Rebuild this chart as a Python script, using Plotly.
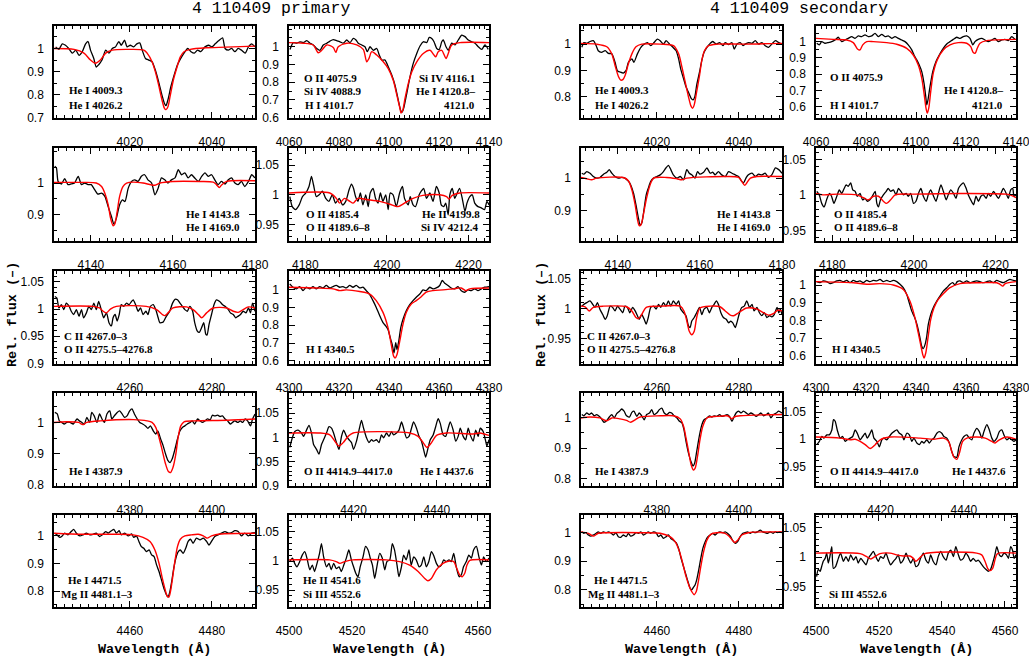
import plotly.graph_objects as go

W, H = 1029, 659

# ---------------- PRIMARY ----------------
# Row 1, col 1 (He I 4009 / 4026)
P11_ow = [4001.9, 4002.7, 4003.5, 4004.3, 4005.1, 4006.0, 4006.8, 4007.6, 4008.4, 4009.2, 4009.8, 4010.4, 4011.2, 4011.8, 4012.4, 4013.2, 4014.1, 4014.9, 4015.7, 4016.5, 4017.3, 4017.9, 4018.7, 4019.3, 4020.1, 4020.9, 4021.7, 4022.4, 4023.0, 4023.8, 4024.6, 4025.4, 4026.2, 4027.0, 4027.8, 4028.4, 4028.8, 4029.3, 4030.0, 4030.8, 4031.6, 4032.4, 4033.2, 4034.1, 4034.9, 4035.7, 4036.5, 4037.3, 4038.3, 4039.2, 4040.0, 4040.8, 4041.6, 4042.6, 4043.2, 4044.0, 4044.8, 4045.6, 4046.4, 4047.2, 4048.1, 4048.9, 4049.7, 4050.5]
P11_of = [1.007, 0.996, 1.02, 1.014, 1.0, 0.98, 0.993, 0.97, 0.986, 1.02, 1.03, 0.993, 0.957, 0.92, 0.93, 0.95, 0.993, 0.98, 1.0, 1.007, 1.03, 1.014, 1.036, 1.007, 1.014, 1.007, 1.02, 1.024, 0.993, 0.957, 0.95, 0.943, 0.907, 0.857, 0.8, 0.764, 0.753, 0.78, 0.836, 0.886, 0.93, 0.957, 0.98, 1.0, 0.986, 0.98, 0.993, 0.986, 1.007, 1.014, 1.007, 1.02, 1.033, 1.046, 1.0, 0.993, 1.0, 0.986, 1.0, 0.993, 0.98, 1.007, 1.02, 1.007]
P11_mw = [4001.5, 4006.4, 4008.8, 4010.4, 4011.6, 4012.8, 4014.1, 4015.7, 4019.3, 4023.4, 4024.2, 4025.4, 4026.2, 4027.0, 4027.8, 4028.4, 4028.8, 4029.3, 4029.8, 4030.6, 4031.5, 4032.3, 4033.2, 4034.7, 4038.7, 4045.2, 4050.5]
P11_mf = [1.0, 0.996, 0.98, 0.95, 0.936, 0.95, 0.98, 0.993, 0.996, 0.993, 0.98, 0.943, 0.9, 0.843, 0.78, 0.743, 0.736, 0.75, 0.793, 0.864, 0.92, 0.964, 0.986, 0.996, 1.003, 1.007, 1.01]

# Row 1, col 2 (H delta region)
P12_ow = [4060.4, 4061.7, 4063.1, 4064.4, 4065.7, 4067.1, 4068.4, 4069.7, 4071.1, 4072.4, 4073.7, 4075.1, 4076.4, 4077.7, 4079.1, 4080.4, 4081.7, 4083.1, 4084.4, 4085.7, 4086.8, 4087.7, 4089.1, 4090.4, 4091.3, 4092.4, 4093.7, 4095.1, 4096.1, 4097.1, 4098.4, 4099.7, 4101.1, 4102.4, 4103.7, 4104.7, 4105.3, 4106.0, 4107.1, 4108.4, 4109.7, 4111.1, 4112.4, 4113.7, 4115.1, 4116.1, 4117.1, 4118.0, 4119.1, 4120.1, 4121.1, 4121.7, 4122.8, 4123.7, 4125.1, 4126.4, 4127.7, 4129.1, 4130.4, 4131.7, 4133.1, 4134.4, 4135.7, 4137.1, 4138.4, 4139.7]
P12_of = [0.985, 1.023, 1.02, 1.028, 1.023, 1.034, 1.02, 1.01, 0.99, 0.98, 1.01, 1.02, 1.032, 1.04, 1.034, 1.028, 1.02, 1.038, 1.023, 1.047, 1.038, 1.02, 1.01, 1.0, 0.972, 1.0, 0.98, 0.99, 0.953, 0.925, 0.925, 0.887, 0.84, 0.783, 0.7, 0.64, 0.632, 0.66, 0.736, 0.83, 0.906, 0.962, 1.004, 1.028, 1.023, 1.053, 1.047, 1.028, 0.99, 0.985, 1.028, 1.038, 1.0, 0.98, 1.02, 1.01, 1.038, 1.066, 1.057, 1.038, 1.028, 1.02, 1.0, 0.985, 1.01, 0.985]
P12_mw = [4060, 4065.7, 4069.7, 4071.7, 4073.1, 4075.1, 4077.7, 4078.7, 4079.7, 4083.1, 4087.1, 4089.7, 4091.1, 4092.0, 4093.1, 4095.1, 4097.7, 4099.7, 4101.7, 4103.3, 4104.4, 4104.8, 4105.5, 4106.4, 4107.7, 4109.1, 4111.1, 4113.7, 4116.4, 4118.0, 4118.7, 4119.7, 4121.1, 4122.8, 4123.7, 4125.1, 4128.4, 4140]
P12_mf = [1.023, 1.02, 1.01, 0.966, 0.98, 1.01, 0.996, 0.968, 1.0, 1.02, 1.01, 0.985, 0.915, 0.934, 0.972, 0.953, 0.915, 0.877, 0.811, 0.717, 0.651, 0.626, 0.642, 0.708, 0.792, 0.858, 0.915, 0.962, 0.98, 0.953, 0.943, 0.972, 0.98, 0.934, 0.962, 1.01, 1.023, 1.023]

# Row 2, col 1 (He I 4143 / 4169)
P21_ow = [4131.2, 4131.6, 4132.0, 4132.8, 4133.6, 4134.4, 4135.2, 4136.0, 4136.9, 4137.7, 4138.5, 4139.3, 4140.1, 4140.9, 4141.7, 4142.6, 4143.4, 4144.2, 4145.0, 4145.6, 4146.2, 4147.0, 4147.7, 4148.3, 4149.1, 4149.9, 4150.7, 4151.5, 4152.3, 4153.1, 4153.9, 4154.8, 4155.6, 4156.4, 4157.2, 4158.0, 4158.8, 4159.6, 4160.5, 4161.3, 4162.1, 4162.9, 4163.7, 4164.5, 4165.3, 4166.2, 4167.0, 4167.8, 4168.6, 4169.4, 4170.2, 4171.0, 4171.8, 4172.7, 4173.5, 4174.3, 4175.1, 4175.9, 4176.7, 4177.5, 4178.4, 4179.2, 4180.0]
P21_of = [1.053, 1.047, 1.005, 0.997, 1.014, 0.995, 0.997, 1.0, 1.021, 0.995, 1.0, 0.995, 0.995, 0.979, 0.965, 0.968, 0.958, 0.926, 0.895, 0.871, 0.889, 0.932, 0.947, 0.942, 0.984, 1.005, 1.01, 1.005, 1.021, 1.026, 1.01, 1.0, 0.963, 0.984, 1.016, 1.01, 1.0, 1.01, 1.016, 1.042, 1.026, 1.032, 1.016, 1.026, 1.016, 1.005, 1.021, 1.032, 1.021, 1.026, 1.01, 0.995, 1.005, 0.997, 1.01, 1.016, 1.0, 0.995, 1.005, 0.989, 1.005, 1.026, 1.016]
P21_mw = [4131, 4138.1, 4141.3, 4142.6, 4143.4, 4144.2, 4144.8, 4145.4, 4145.8, 4146.4, 4147.0, 4147.8, 4148.7, 4150.3, 4152.7, 4155.6, 4156.8, 4160.0, 4166.6, 4169.8, 4170.6, 4171.3, 4171.8, 4173.1, 4180]
P21_mf = [1.002, 1.002, 1.0, 0.989, 0.968, 0.932, 0.889, 0.866, 0.871, 0.91, 0.958, 0.989, 1.0, 1.003, 1.0, 0.993, 1.0, 1.005, 1.005, 1.003, 0.995, 0.986, 0.993, 1.005, 1.007]

# Row 2, col 2 (O II / He II 4200)
P22_ow = [4176.2, 4176.8, 4177.6, 4178.5, 4179.3, 4180.1, 4180.9, 4181.5, 4182.0, 4182.7, 4183.4, 4184.2, 4185.0, 4185.8, 4186.6, 4187.4, 4188.3, 4189.1, 4189.9, 4190.7, 4191.3, 4191.8, 4192.3, 4192.9, 4193.5, 4194.1, 4194.8, 4195.4, 4195.9, 4196.6, 4197.2, 4197.8, 4198.4, 4199.0, 4199.7, 4200.3, 4200.8, 4201.5, 4202.3, 4203.1, 4203.8, 4204.3, 4205.2, 4205.7, 4206.4, 4207.0, 4207.9, 4208.4, 4209.0, 4209.7, 4210.5, 4211.3, 4212.1, 4212.8, 4213.3, 4213.9, 4214.4, 4215.0, 4215.4, 4216.0, 4216.6, 4217.2, 4217.8, 4218.5, 4219.1, 4219.6, 4220.3, 4220.9, 4221.5, 4222.3, 4223.1, 4223.9, 4224.5, 4225.0]
P22_of = [0.997, 0.98, 0.975, 0.983, 0.997, 1.003, 1.014, 1.031, 1.017, 0.997, 1.0, 1.006, 0.994, 0.989, 1.0, 0.986, 0.994, 0.983, 0.989, 1.008, 1.018, 1.011, 0.997, 0.989, 1.003, 0.983, 1.0, 0.98, 1.003, 1.011, 0.994, 0.986, 1.003, 0.989, 1.0, 0.975, 1.003, 1.0, 0.98, 1.003, 1.014, 0.994, 0.983, 0.997, 0.983, 0.98, 1.0, 1.006, 1.011, 0.994, 1.003, 0.989, 1.014, 1.003, 0.983, 0.98, 0.986, 0.966, 1.0, 1.011, 0.994, 1.003, 1.011, 0.992, 0.972, 0.986, 0.997, 1.0, 0.986, 0.98, 0.978, 0.975, 0.989, 0.983]
P22_mw = [4176, 4186, 4187.6, 4188.4, 4189.6, 4190.9, 4191.7, 4192.9, 4195, 4198.2, 4200.7, 4202.7, 4204.3, 4206.4, 4208.8, 4212.9, 4214.6, 4215.2, 4216, 4217.8, 4225]
P22_mf = [1.003, 1.003, 0.994, 0.986, 0.994, 0.989, 0.986, 0.994, 0.992, 0.989, 0.984, 0.98, 0.986, 0.994, 0.999, 1.0, 0.997, 0.993, 0.999, 1.003, 1.003]

# Row 3, col 1 (C II / O II)
P31_ow = [4241.7, 4242.2, 4242.7, 4243.3, 4243.9, 4244.5, 4245.2, 4245.7, 4246.3, 4246.95, 4247.6, 4248.2, 4248.7, 4249.4, 4250.0, 4250.6, 4251.2, 4251.8, 4252.4, 4253.1, 4253.6, 4254.3, 4254.9, 4255.5, 4255.9, 4256.4, 4256.9, 4257.4, 4257.9, 4258.5, 4259.2, 4259.8, 4260.4, 4260.8, 4261.4, 4262.0, 4262.6, 4263.2, 4263.9, 4264.4, 4265.0, 4265.7, 4266.3, 4266.9, 4267.3, 4268.1, 4268.9, 4269.7, 4270.4, 4271.0, 4271.6, 4272.2, 4272.8, 4273.4, 4274.0, 4274.6, 4275.3, 4275.8, 4276.4, 4276.9, 4277.5, 4278.0, 4278.5, 4278.8, 4279.3, 4279.9, 4280.5, 4281.1, 4281.9, 4282.6, 4283.2, 4284.0, 4284.5, 4285.2, 4285.8, 4286.4, 4286.98, 4287.6, 4288.3, 4288.9, 4289.4, 4289.9, 4290.5]
P31_of = [1.023, 1.02, 1.002, 1.008, 0.999, 1.011, 1.005, 0.996, 0.99, 0.999, 0.987, 0.999, 0.984, 0.993, 1.005, 0.999, 1.011, 0.999, 1.014, 0.996, 0.984, 0.993, 0.975, 0.969, 0.984, 0.99, 0.978, 0.99, 1.008, 1.005, 1.011, 1.008, 1.014, 1.017, 1.008, 0.996, 1.002, 0.99, 0.996, 0.99, 1.005, 1.008, 0.999, 0.984, 0.975, 0.976, 0.987, 0.996, 1.011, 1.018, 1.017, 1.011, 1.005, 0.999, 0.996, 1.005, 0.996, 0.975, 0.96, 0.957, 0.966, 0.975, 0.954, 0.952, 0.972, 0.99, 1.008, 1.017, 1.014, 1.008, 1.005, 0.999, 0.993, 0.99, 0.984, 0.987, 0.99, 0.996, 0.993, 1.002, 0.993, 1.011, 0.996]
P31_mw = [4241.5, 4251.0, 4252.6, 4253.5, 4254.3, 4255.25, 4256.7, 4264.0, 4266.5, 4267.9, 4268.5, 4269.3, 4270.5, 4273.8, 4275.4, 4276.7, 4277.5, 4278.7, 4280.3, 4283.6, 4285.2, 4286.4, 4287.6, 4288.9, 4290.5]
P31_mf = [1.005, 1.005, 1.002, 0.996, 0.993, 1.0, 1.005, 1.005, 0.999, 0.99, 0.988, 0.993, 1.002, 1.004, 0.999, 0.99, 0.984, 0.993, 1.002, 1.002, 0.996, 0.994, 0.999, 1.004, 1.002]

# Row 3, col 2 (H gamma)
P32_ow = [4300.3, 4301.6, 4302.9, 4304.3, 4305.6, 4306.9, 4308.3, 4309.6, 4310.9, 4312.3, 4313.6, 4314.9, 4316.3, 4317.6, 4318.9, 4320.3, 4321.6, 4322.9, 4324.3, 4325.6, 4326.9, 4328.3, 4329.6, 4330.9, 4332.3, 4333.6, 4334.9, 4336.3, 4337.6, 4338.7, 4339.6, 4340.5, 4341.3, 4342.0, 4342.7, 4343.2, 4343.9, 4344.7, 4345.6, 4346.9, 4348.3, 4349.6, 4350.9, 4352.3, 4353.6, 4354.9, 4356.3, 4357.6, 4358.9, 4360.3, 4361.3, 4362.3, 4363.6, 4364.9, 4366.3, 4367.6, 4368.9, 4370.3, 4371.6, 4372.9, 4374.3, 4375.6, 4376.9, 4378.3, 4380]
P32_of = [1.032, 1.013, 1.004, 1.017, 0.994, 1.013, 1.004, 1.017, 1.004, 1.017, 1.009, 1.023, 1.009, 1.017, 1.023, 1.013, 1.017, 1.009, 1.023, 1.013, 1.023, 1.009, 1.013, 0.994, 0.972, 0.938, 0.9, 0.853, 0.815, 0.796, 0.777, 0.73, 0.692, 0.645, 0.702, 0.664, 0.711, 0.787, 0.834, 0.881, 0.915, 0.938, 0.957, 0.975, 0.998, 0.994, 1.013, 1.004, 1.009, 1.023, 1.051, 1.036, 1.023, 1.009, 1.004, 1.017, 0.994, 0.985, 0.998, 0.994, 1.004, 0.994, 1.004, 1.013, 1.017]
P32_mw = [4300, 4310.9, 4317.6, 4320.3, 4322.9, 4328.3, 4332.3, 4334.9, 4337.6, 4339.6, 4340.9, 4341.9, 4342.5, 4343.2, 4344.3, 4345.6, 4346.9, 4348.9, 4350.9, 4352.9, 4354.9, 4357.6, 4361.6, 4365.6, 4368.9, 4370.7, 4372.3, 4380]
P32_mf = [1.013, 1.009, 1.004, 0.994, 0.998, 0.989, 0.975, 0.938, 0.872, 0.787, 0.692, 0.626, 0.617, 0.636, 0.711, 0.806, 0.872, 0.919, 0.938, 0.96, 0.985, 0.994, 0.998, 1.004, 1.009, 0.994, 1.004, 1.009]

# Row 4, col 1 (He I 4387.9)
P41_ow = [4361.7, 4362.3, 4362.8, 4363.4, 4364.0, 4364.6, 4365.4, 4366.2, 4367.1, 4367.7, 4368.3, 4368.9, 4369.5, 4370.2, 4370.7, 4371.3, 4371.96, 4372.6, 4373.2, 4373.8, 4374.4, 4375.1, 4375.6, 4376.2, 4376.9, 4377.5, 4378.1, 4378.7, 4379.3, 4379.95, 4380.5, 4381.1, 4381.8, 4382.4, 4383.1, 4383.8, 4384.4, 4385.0, 4385.7, 4386.3, 4386.8, 4387.5, 4388.1, 4388.7, 4389.3, 4389.8, 4390.3, 4390.9, 4391.6, 4392.2, 4392.8, 4393.4, 4394.0, 4394.7, 4395.2, 4395.8, 4396.5, 4397.1, 4397.7, 4398.3, 4398.9, 4399.6, 4400.1, 4400.7, 4401.4, 4402.0, 4402.6, 4403.2, 4403.8, 4404.5, 4405.0, 4405.6, 4406.3, 4406.9, 4407.5, 4408.1, 4408.7, 4409.4, 4409.9, 4410.5]
P41_of = [1.032, 1.027, 1.005, 1.0, 0.995, 1.0, 1.0, 0.995, 1.011, 1.005, 1.0, 0.995, 1.016, 1.0, 1.032, 1.021, 1.0, 1.027, 1.011, 1.0, 1.027, 1.037, 1.011, 1.021, 1.032, 1.037, 1.027, 1.016, 1.021, 1.037, 1.043, 1.027, 1.011, 1.0, 0.995, 0.989, 0.981, 0.989, 0.973, 0.963, 0.973, 0.947, 0.926, 0.899, 0.878, 0.872, 0.883, 0.91, 0.947, 0.973, 0.984, 0.989, 0.995, 1.0, 1.005, 0.995, 1.011, 1.005, 1.0, 1.005, 1.011, 1.009, 1.023, 1.021, 1.023, 1.019, 1.021, 1.011, 1.005, 0.995, 1.0, 1.005, 1.0, 1.005, 1.0, 1.011, 1.005, 0.989, 1.011, 1.027]
P41_mw = [4361.5, 4364.6, 4367.5, 4368.5, 4369.5, 4372.8, 4380.9, 4384.2, 4385.4, 4386.3, 4387.1, 4387.9, 4388.7, 4389.4, 4389.9, 4390.5, 4391.2, 4391.7, 4392.4, 4393.2, 4395.6, 4403.8, 4410.5]
P41_mf = [1.0, 1.002, 1.0, 0.993, 1.0, 1.005, 1.009, 1.005, 1.0, 0.984, 0.952, 0.91, 0.867, 0.843, 0.84, 0.856, 0.899, 0.947, 0.989, 1.002, 1.005, 1.007, 1.011]

# Row 4, col 2 (O II 4415 / He I 4437.6)
P42_ow = [4404.7, 4405.3, 4405.9, 4406.7, 4407.5, 4408.0, 4408.7, 4409.3, 4409.9, 4410.4, 4411.1, 4411.7, 4412.3, 4412.8, 4413.5, 4414.1, 4414.7, 4415.2, 4415.9, 4416.5, 4417.1, 4417.6, 4418.3, 4418.9, 4419.5, 4420.0, 4420.7, 4421.3, 4421.9, 4422.4, 4423.1, 4423.7, 4424.3, 4424.8, 4425.5, 4426.1, 4426.7, 4427.2, 4427.9, 4428.5, 4429.1, 4429.6, 4430.3, 4430.9, 4431.5, 4432.0, 4432.7, 4433.3, 4433.9, 4434.4, 4435.1, 4435.7, 4436.3, 4436.8, 4437.3, 4437.9, 4438.4, 4439.1, 4439.7, 4440.3, 4440.8, 4441.5, 4442.1, 4442.7, 4443.2, 4443.9, 4444.5, 4445.1, 4445.6, 4446.3, 4446.9, 4447.5, 4448.0, 4448.7, 4449.3, 4449.9, 4450.4, 4451.1, 4451.7, 4452.0, 4452.5]
P42_of = [0.979, 0.999, 1.012, 1.015, 1.009, 1.002, 1.015, 1.025, 1.009, 0.985, 0.975, 0.965, 0.985, 0.995, 1.009, 1.022, 1.019, 1.009, 0.989, 0.975, 1.002, 1.015, 1.002, 0.995, 0.989, 0.975, 0.992, 1.015, 1.035, 1.019, 0.999, 0.989, 0.995, 0.992, 0.995, 0.989, 1.005, 0.999, 1.009, 1.002, 1.012, 1.005, 1.009, 1.015, 1.032, 1.019, 0.999, 1.002, 1.019, 1.032, 1.019, 1.002, 0.992, 0.975, 0.959, 0.979, 0.995, 1.005, 1.022, 1.039, 1.029, 1.005, 1.002, 1.019, 1.032, 1.015, 0.992, 1.002, 1.019, 1.002, 0.995, 1.019, 1.005, 0.992, 1.015, 1.002, 1.019, 1.012, 0.992, 0.982, 0.995]
P42_mw = [4404.5, 4411.9, 4414.3, 4415.5, 4416.5, 4417.5, 4418.7, 4419.9, 4433.5, 4435.5, 4436.7, 4437.6, 4438.7, 4439.9, 4442.3, 4448.7, 4450.3, 4452.5]
P42_mf = [1.009, 1.009, 1.005, 0.992, 0.982, 0.989, 1.002, 1.009, 1.009, 1.002, 0.989, 0.979, 0.989, 1.004, 1.009, 1.007, 1.009, 1.004]

# Row 5, col 1 (He I 4471.5 / Mg II)
P51_ow = [4441.7, 4442.2, 4442.9, 4443.5, 4444.1, 4444.9, 4445.7, 4446.3, 4446.95, 4447.8, 4448.6, 4449.4, 4450.2, 4451.0, 4451.8, 4452.6, 4453.3, 4454.1, 4454.7, 4455.5, 4456.1, 4456.7, 4457.4, 4457.9, 4458.75, 4459.6, 4460.4, 4460.95, 4461.6, 4462.2, 4462.8, 4463.4, 4464.0, 4464.7, 4465.3, 4465.9, 4466.5, 4467.1, 4467.8, 4468.4, 4468.9, 4469.3, 4469.7, 4470.2, 4470.7, 4471.2, 4471.8, 4472.3, 4472.99, 4473.6, 4474.2, 4474.8, 4475.4, 4476.2, 4477.1, 4477.9, 4478.7, 4479.3, 4479.9, 4480.7, 4481.5, 4482.3, 4483.2, 4484.0, 4484.8, 4485.6, 4486.4, 4487.2, 4488.0, 4488.9, 4489.7, 4490.5]
P51_of = [1.01, 1.004, 0.995, 1.0, 1.01, 1.004, 1.016, 1.024, 1.01, 1.0, 1.004, 1.01, 1.004, 1.006, 1.01, 0.998, 1.004, 1.016, 1.01, 1.019, 1.024, 1.01, 1.019, 1.004, 1.01, 1.0, 1.007, 0.995, 1.0, 0.98, 0.961, 0.955, 0.943, 0.949, 0.931, 0.925, 0.895, 0.871, 0.835, 0.805, 0.787, 0.778, 0.795, 0.835, 0.883, 0.919, 0.943, 0.949, 0.937, 0.955, 0.98, 0.988, 0.973, 0.992, 0.986, 0.992, 0.98, 0.967, 0.98, 0.998, 1.004, 1.01, 1.016, 1.01, 1.012, 1.019, 1.016, 1.0, 1.01, 1.0, 1.01, 1.012]
P51_mw = [4441.5, 4448.6, 4456.7, 4460.8, 4463.2, 4464.9, 4466.1, 4467.1, 4467.9, 4468.6, 4469.1, 4469.5, 4469.9, 4470.4, 4470.96, 4471.6, 4472.3, 4473.4, 4475.0, 4476.7, 4477.9, 4478.8, 4479.9, 4481.9, 4490.5]
P51_mf = [1.01, 1.006, 1.006, 1.004, 0.995, 0.98, 0.949, 0.901, 0.847, 0.805, 0.781, 0.778, 0.799, 0.847, 0.907, 0.961, 0.988, 1.0, 1.004, 1.006, 1.0, 0.992, 1.0, 1.007, 1.01]

# Row 5, col 2 (He II 4541.6 / Si III)
P52_ow = [4500.2, 4501.1, 4501.8, 4502.5, 4503.4, 4504.2, 4505.0, 4505.7, 4506.6, 4507.4, 4508.1, 4508.9, 4509.7, 4510.3, 4511.0, 4511.9, 4512.7, 4513.4, 4514.2, 4515.0, 4515.9, 4516.6, 4517.4, 4518.2, 4519.0, 4519.8, 4520.5, 4521.2, 4521.9, 4522.6, 4523.5, 4524.3, 4525.1, 4525.8, 4526.5, 4527.2, 4527.9, 4528.8, 4529.6, 4530.4, 4531.1, 4532.0, 4532.8, 4533.5, 4534.3, 4534.9, 4535.7, 4536.4, 4537.2, 4538.1, 4538.8, 4539.6, 4540.4, 4541.3, 4542.0, 4542.8, 4543.6, 4544.4, 4545.2, 4545.9, 4546.8, 4547.6, 4548.4, 4549.1, 4549.9, 4550.8, 4551.5, 4552.3, 4553.1, 4554.0, 4554.7, 4555.4, 4556.3, 4557.1, 4557.9, 4558.6, 4559.5, 4560.3, 4561.1, 4561.8, 4562.6, 4563.5]
P52_of = [0.999, 1.005, 0.996, 0.99, 0.999, 1.01, 1.016, 1.005, 0.985, 0.993, 0.982, 0.996, 1.013, 1.03, 1.007, 0.99, 0.996, 0.985, 0.996, 0.987, 0.99, 0.982, 0.993, 1.005, 1.019, 1.002, 0.99, 0.979, 0.973, 0.99, 1.007, 1.025, 1.019, 1.005, 0.993, 0.97, 0.99, 1.013, 1.005, 0.985, 0.999, 1.002, 1.03, 1.019, 0.993, 0.973, 0.99, 1.01, 1.002, 1.019, 0.993, 1.007, 1.002, 0.99, 0.993, 1.007, 0.99, 0.999, 1.016, 1.01, 0.996, 0.99, 0.993, 1.002, 0.999, 1.002, 0.999, 1.013, 0.99, 0.973, 0.976, 0.99, 0.999, 1.01, 1.005, 1.019, 1.025, 1.007, 0.993, 1.007, 0.999, 1.005]
P52_mw = [4500, 4512.9, 4515.0, 4516.1, 4517.7, 4520.3, 4530.9, 4535.1, 4538.3, 4541.0, 4543.1, 4544.1, 4545.2, 4546.8, 4548.9, 4551.0, 4552.3, 4553.3, 4554.2, 4555.0, 4555.8, 4556.5, 4557.4, 4563.5]
P52_mf = [1.002, 1.002, 0.999, 0.996, 0.999, 1.002, 1.002, 0.999, 0.993, 0.982, 0.97, 0.966, 0.97, 0.985, 0.996, 1.0, 0.999, 0.987, 0.976, 0.973, 0.979, 0.993, 1.001, 1.002]

# ---------------- SECONDARY ----------------
S11_ow = [4001.7, 4002.2, 4002.9, 4003.7, 4004.5, 4005.2, 4005.7, 4006.5, 4007.4, 4008.2, 4009.0, 4009.8, 4010.4, 4011.0, 4011.8, 4012.5, 4013.05, 4013.9, 4014.4, 4015.25, 4016.1, 4016.9, 4017.7, 4018.5, 4019.3, 4020.1, 4020.8, 4021.6, 4022.25, 4023.1, 4023.9, 4024.7, 4025.3, 4025.8, 4026.5, 4027.1, 4027.8, 4028.35, 4028.8, 4029.25, 4029.7, 4030.4, 4030.95, 4031.5, 4032.2, 4033.0, 4033.6, 4034.45, 4035.3, 4036.1, 4036.65, 4037.5, 4038.3, 4038.85, 4039.5, 4040.3, 4041.0, 4041.5, 4042.35, 4043.2, 4043.97, 4044.8, 4045.6, 4046.4, 4047.2, 4048.0, 4048.9, 4049.7, 4050.5]
S11_of = [0.988, 1.006, 1.003, 1.01, 1.013, 0.994, 0.975, 0.969, 0.975, 0.965, 0.963, 0.931, 0.898, 0.894, 0.89, 0.9, 0.931, 0.944, 0.931, 0.963, 0.988, 1.0, 1.006, 0.994, 1.006, 1.019, 1.013, 1.0, 1.013, 1.0, 0.988, 0.975, 0.944, 0.906, 0.869, 0.838, 0.813, 0.794, 0.788, 0.8, 0.844, 0.894, 0.938, 0.969, 0.988, 1.003, 1.01, 1.0, 1.006, 0.994, 1.006, 0.998, 1.006, 0.981, 1.0, 1.006, 0.994, 1.0, 1.006, 1.003, 1.013, 1.0, 1.006, 0.994, 0.988, 1.0, 1.013, 1.006, 1.0]
S11_mw = [4001.5, 4005.3, 4007.8, 4009.0, 4009.8, 4010.6, 4011.2, 4011.7, 4012.25, 4013.05, 4013.9, 4014.9, 4016.3, 4020.8, 4024.04, 4025.3, 4026.1, 4026.9, 4027.7, 4028.3, 4028.7, 4029.1, 4029.7, 4030.4, 4030.95, 4031.6, 4032.6, 4034.6, 4041.1, 4050.5]
S11_mf = [1.003, 1.0, 0.99, 0.963, 0.919, 0.878, 0.863, 0.865, 0.881, 0.925, 0.963, 0.99, 1.0, 1.0, 0.994, 0.963, 0.913, 0.856, 0.8, 0.765, 0.756, 0.769, 0.819, 0.881, 0.938, 0.975, 0.994, 1.0, 1.0, 1.003]

S12_ow = [4060.3, 4061.3, 4062.3, 4063.6, 4064.9, 4066.3, 4067.6, 4068.9, 4070.3, 4071.6, 4072.9, 4074.3, 4075.6, 4076.9, 4078.3, 4079.6, 4080.9, 4082.3, 4083.6, 4084.9, 4086.3, 4087.6, 4088.9, 4090.3, 4091.6, 4092.9, 4094.3, 4095.6, 4096.9, 4098.3, 4099.2, 4100.3, 4101.3, 4102.3, 4103.2, 4103.9, 4104.3, 4104.8, 4105.6, 4106.7, 4108.0, 4109.3, 4110.9, 4112.3, 4113.6, 4114.9, 4116.3, 4117.6, 4118.9, 4120.3, 4121.6, 4122.7, 4123.6, 4124.9, 4126.3, 4127.6, 4128.9, 4130.3, 4131.6, 4132.9, 4134.3, 4135.6, 4136.9, 4138.3, 4139.6]
S12_of = [0.99, 0.98, 1.0, 0.99, 0.994, 1.0, 1.01, 1.027, 1.0, 1.01, 1.02, 1.031, 1.02, 1.035, 1.031, 1.041, 1.031, 1.035, 1.051, 1.031, 1.045, 1.031, 1.035, 1.02, 1.031, 1.02, 1.01, 1.0, 0.98, 0.949, 0.918, 0.888, 0.857, 0.816, 0.745, 0.663, 0.612, 0.643, 0.724, 0.816, 0.878, 0.918, 0.959, 0.986, 1.0, 1.014, 1.027, 1.02, 1.031, 1.035, 1.02, 0.98, 1.0, 1.014, 1.02, 1.01, 1.0, 1.01, 1.02, 1.0, 1.01, 1.014, 1.006, 1.031, 1.014]
S12_mw = [4060, 4066.9, 4072.3, 4074.9, 4076.7, 4077.6, 4078.7, 4080.3, 4082.9, 4088.3, 4092.3, 4096.3, 4098.9, 4100.9, 4102.3, 4103.3, 4104.0, 4104.5, 4105.1, 4105.9, 4106.9, 4108.5, 4110.9, 4113.6, 4116.9, 4120.3, 4121.9, 4122.9, 4123.7, 4124.5, 4125.6, 4128.3, 4140]
S12_mf = [1.02, 1.014, 1.01, 0.994, 0.953, 0.949, 0.98, 1.0, 1.0, 0.994, 0.984, 0.959, 0.918, 0.857, 0.776, 0.673, 0.592, 0.561, 0.592, 0.694, 0.806, 0.888, 0.949, 0.98, 0.994, 0.99, 0.969, 0.933, 0.929, 0.959, 0.99, 1.006, 1.014]

S21_ow = [4131.2, 4131.7, 4132.4, 4133.2, 4134.0, 4134.8, 4135.6, 4136.5, 4137.3, 4137.9, 4138.5, 4139.3, 4140.1, 4140.9, 4141.7, 4142.6, 4143.1, 4143.8, 4144.4, 4145.0, 4145.4, 4145.8, 4146.4, 4146.9, 4147.4, 4148.0, 4148.7, 4149.5, 4150.3, 4151.1, 4151.7, 4152.3, 4152.9, 4153.5, 4154.4, 4155.2, 4156.0, 4156.8, 4157.4, 4158.0, 4158.8, 4159.4, 4160.0, 4160.9, 4161.7, 4162.5, 4163.1, 4163.7, 4164.5, 4165.3, 4166.2, 4166.96, 4167.8, 4168.6, 4169.4, 4170.2, 4170.6, 4171.3, 4171.8, 4172.7, 4173.5, 4174.3, 4175.1, 4175.9, 4176.7, 4177.5, 4178.4, 4179.2, 4180.0]
S21_of = [1.015, 1.012, 1.02, 1.015, 1.005, 1.0, 1.002, 1.012, 1.018, 1.026, 1.015, 1.005, 1.0, 1.002, 1.0, 0.99, 0.98, 0.954, 0.918, 0.878, 0.857, 0.862, 0.908, 0.949, 0.969, 0.99, 1.0, 1.005, 1.01, 1.02, 1.031, 1.039, 1.026, 1.01, 1.0, 1.005, 0.995, 1.026, 1.015, 1.01, 1.0, 1.02, 1.012, 1.018, 1.031, 1.015, 1.018, 1.01, 1.02, 1.01, 1.005, 1.02, 1.015, 1.01, 1.005, 0.99, 0.985, 1.002, 1.01, 1.015, 1.005, 1.012, 1.01, 1.015, 1.002, 1.01, 1.031, 1.026, 1.015]
S21_mw = [4131, 4132.4, 4133.6, 4134.8, 4141.3, 4142.55, 4143.4, 4144.2, 4144.8, 4145.2, 4145.6, 4146.2, 4146.9, 4147.7, 4148.7, 4151.9, 4154.35, 4155.6, 4156.8, 4166.6, 4169.4, 4170.2, 4170.9, 4171.4, 4172.3, 4173.9, 4180]
S21_mf = [1.002, 0.998, 0.995, 1.0, 1.002, 0.992, 0.964, 0.918, 0.872, 0.855, 0.857, 0.888, 0.934, 0.974, 1.0, 1.002, 0.998, 0.995, 1.0, 1.005, 1.002, 0.99, 0.978, 0.985, 1.0, 1.005, 1.005]

S22_ow = [4176.2, 4176.8, 4177.4, 4178.0, 4178.6, 4179.3, 4179.8, 4180.4, 4181.1, 4181.7, 4182.3, 4182.9, 4183.4, 4183.9, 4184.5, 4185.0, 4185.6, 4186.1, 4186.8, 4187.4, 4188.0, 4188.6, 4189.2, 4189.8, 4190.5, 4190.9, 4191.3, 4191.8, 4192.5, 4193.2, 4193.7, 4194.3, 4194.95, 4195.6, 4196.2, 4196.8, 4197.4, 4198.1, 4198.6, 4199.2, 4199.9, 4200.5, 4201.1, 4201.7, 4202.3, 4203.0, 4203.5, 4204.1, 4204.8, 4205.4, 4205.98, 4206.6, 4207.2, 4207.9, 4208.4, 4209.0, 4209.7, 4210.3, 4210.9, 4211.5, 4212.1, 4212.8, 4213.3, 4213.9, 4214.6, 4215.2, 4215.8, 4216.4, 4217.0, 4217.7, 4218.2, 4218.8, 4219.5, 4220.1, 4220.7, 4221.3, 4221.9, 4222.6, 4223.1, 4223.7, 4224.2, 4224.5, 4225.0]
S22_of = [1.005, 1.0, 0.988, 0.983, 0.993, 1.002, 0.998, 0.988, 0.998, 1.007, 1.002, 1.009, 1.014, 1.012, 1.017, 1.007, 1.005, 0.998, 1.002, 0.993, 0.995, 0.991, 0.993, 0.998, 1.005, 0.988, 0.983, 0.993, 1.0, 1.005, 1.009, 1.005, 1.007, 1.0, 1.009, 1.005, 1.0, 1.002, 0.998, 1.002, 0.988, 0.991, 1.002, 1.009, 0.998, 0.991, 1.0, 1.007, 0.998, 0.991, 1.002, 1.014, 1.005, 0.993, 1.0, 1.007, 1.002, 0.995, 1.009, 1.014, 1.017, 1.009, 1.0, 0.993, 0.986, 0.998, 0.991, 0.998, 1.0, 0.995, 1.002, 0.998, 1.005, 1.0, 0.995, 1.002, 1.009, 1.002, 0.995, 1.007, 1.009, 0.998, 1.0]
S22_mw = [4176, 4177.8, 4181.1, 4186.0, 4187.6, 4188.8, 4190.1, 4191.3, 4192.5, 4193.3, 4194.3, 4195.4, 4199.9, 4211.3, 4222.7, 4224.0, 4225.0]
S22_mf = [1.002, 1.0, 1.001, 1.0, 0.996, 0.993, 0.998, 0.998, 0.991, 0.988, 0.993, 1.0, 1.001, 1.002, 1.001, 0.999, 0.996]

S31_ow = [4241.7, 4242.2, 4242.9, 4243.7, 4244.35, 4244.9, 4245.5, 4246.1, 4246.8, 4247.4, 4247.9, 4248.6, 4249.2, 4249.8, 4250.4, 4251.0, 4251.7, 4252.2, 4252.8, 4253.4, 4254.1, 4254.7, 4255.25, 4255.7, 4256.3, 4256.9, 4257.4, 4257.9, 4258.5, 4259.2, 4259.8, 4260.4, 4260.95, 4261.6, 4262.2, 4262.8, 4263.4, 4264.0, 4264.7, 4265.3, 4265.8, 4266.5, 4267.1, 4267.7, 4268.1, 4268.5, 4269.1, 4269.7, 4270.4, 4270.95, 4271.5, 4272.2, 4272.8, 4273.4, 4273.95, 4274.5, 4275.0, 4275.6, 4276.2, 4276.9, 4277.5, 4278.0, 4278.5, 4279.1, 4279.5, 4280.15, 4280.7, 4281.3, 4281.9, 4282.6, 4283.2, 4283.7, 4284.4, 4285.0, 4285.6, 4286.2, 4286.8, 4287.5, 4288.0, 4288.6, 4289.3, 4289.7, 4290.1, 4290.5]
S31_of = [1.004, 1.007, 1.01, 1.013, 1.007, 1.002, 1.01, 0.999, 0.99, 0.982, 0.988, 1.004, 1.002, 0.996, 1.004, 0.999, 0.993, 1.004, 1.002, 0.993, 1.002, 0.996, 0.988, 0.982, 0.99, 0.982, 0.974, 0.985, 1.002, 1.004, 0.999, 1.007, 1.002, 1.01, 1.004, 1.013, 1.004, 1.013, 1.007, 1.013, 0.999, 0.993, 0.988, 0.971, 0.968, 0.979, 0.985, 0.993, 1.002, 0.99, 0.999, 1.002, 0.993, 1.002, 1.007, 1.013, 1.007, 0.993, 0.985, 0.982, 0.976, 0.979, 0.976, 0.968, 0.976, 0.993, 1.002, 1.004, 1.013, 1.002, 1.007, 0.996, 1.002, 0.993, 0.988, 0.993, 0.985, 0.988, 0.986, 0.99, 1.002, 0.993, 0.999, 0.99]
S31_mw = [4241.5, 4242.5, 4243.5, 4244.5, 4246.95, 4252.6, 4253.9, 4254.9, 4255.5, 4256.3, 4257.4, 4260.8, 4265.7, 4266.6, 4267.3, 4267.9, 4268.5, 4269.1, 4269.7, 4270.5, 4273.0, 4275.4, 4276.65, 4277.9, 4278.7, 4279.9, 4281.9, 4284.4, 4286.0, 4287.2, 4288.5, 4289.4, 4290.5]
S31_mf = [1.004, 1.003, 0.996, 1.002, 1.004, 1.003, 0.996, 0.985, 0.983, 0.99, 1.002, 1.004, 1.004, 0.996, 0.979, 0.962, 0.956, 0.962, 0.985, 1.001, 1.004, 1.003, 0.996, 0.989, 0.988, 0.993, 1.001, 0.999, 0.993, 0.989, 0.992, 0.997, 0.996]

S32_ow = [4300.3, 4301.6, 4302.9, 4304.3, 4305.6, 4306.9, 4308.3, 4309.6, 4310.9, 4312.3, 4313.6, 4314.9, 4316.3, 4317.6, 4318.9, 4320.3, 4321.6, 4322.9, 4324.3, 4325.6, 4326.9, 4328.3, 4329.6, 4330.9, 4332.3, 4333.6, 4334.9, 4336.3, 4337.3, 4338.3, 4339.2, 4340.0, 4340.9, 4341.6, 4342.3, 4342.9, 4343.6, 4344.3, 4344.9, 4345.9, 4346.9, 4348.3, 4349.6, 4350.9, 4352.3, 4353.6, 4354.7, 4355.6, 4356.5, 4357.6, 4358.9, 4360.3, 4361.6, 4362.9, 4364.3, 4365.6, 4366.9, 4368.3, 4369.6, 4370.9, 4372.3, 4373.6, 4374.9, 4376.3, 4377.6, 4378.9, 4380]
S32_of = [1.019, 1.013, 1.023, 1.019, 1.008, 1.013, 1.023, 1.026, 1.019, 1.026, 1.013, 1.026, 1.019, 1.023, 1.013, 1.026, 1.019, 1.026, 1.023, 1.032, 1.019, 1.026, 1.019, 1.026, 1.019, 1.004, 0.985, 0.947, 0.9, 0.853, 0.825, 0.796, 0.749, 0.702, 0.655, 0.642, 0.664, 0.711, 0.777, 0.834, 0.872, 0.909, 0.938, 0.966, 0.985, 1.004, 1.013, 1.0, 1.019, 1.023, 1.013, 1.023, 1.013, 1.019, 1.023, 1.019, 1.013, 1.019, 1.023, 1.013, 1.026, 1.019, 1.013, 1.023, 1.032, 1.026, 1.023]
S32_mw = [4300, 4314.9, 4320.3, 4325.6, 4330.9, 4334.9, 4337.6, 4339.6, 4340.9, 4342.0, 4342.7, 4343.2, 4343.9, 4344.7, 4345.9, 4347.2, 4348.9, 4350.9, 4353.6, 4357.6, 4365.6, 4372.3, 4373.6, 4374.7, 4375.7, 4380]
S32_mf = [1.019, 1.013, 1.004, 1.008, 1.0, 0.975, 0.909, 0.815, 0.73, 0.655, 0.608, 0.589, 0.617, 0.692, 0.806, 0.872, 0.919, 0.951, 0.985, 1.008, 1.013, 1.013, 1.004, 0.994, 1.008, 1.019]

S41_ow = [4361.7, 4362.2, 4362.9, 4363.5, 4364.1, 4364.7, 4365.3, 4366.0, 4366.5, 4367.1, 4367.8, 4368.4, 4369.0, 4369.6, 4370.2, 4370.9, 4371.4, 4372.0, 4372.6, 4373.3, 4373.9, 4374.4, 4375.1, 4375.7, 4376.3, 4376.9, 4377.5, 4378.2, 4378.75, 4379.3, 4379.97, 4380.6, 4381.2, 4381.8, 4382.4, 4383.1, 4383.6, 4384.2, 4384.9, 4385.5, 4386.1, 4386.6, 4387.1, 4387.7, 4388.3, 4388.8, 4389.2, 4389.7, 4390.4, 4390.96, 4391.5, 4392.2, 4392.8, 4393.4, 4393.96, 4394.6, 4395.3, 4395.8, 4396.4, 4397.1, 4397.7, 4398.3, 4398.7, 4399.3, 4399.9, 4400.5, 4401.1, 4401.8, 4402.3, 4402.9, 4403.6, 4404.2, 4404.8, 4405.4, 4406.0, 4406.7, 4407.2, 4407.8, 4408.4, 4409.1, 4409.7, 4410.5]
S41_of = [1.009, 1.005, 1.014, 1.009, 1.014, 1.005, 1.009, 1.003, 0.995, 0.984, 0.99, 1.001, 1.009, 0.998, 1.012, 1.02, 1.027, 1.02, 1.005, 1.001, 1.016, 1.02, 1.003, 1.014, 1.005, 0.992, 1.009, 1.014, 1.025, 1.009, 1.014, 1.025, 1.03, 1.014, 1.009, 1.016, 1.014, 1.005, 0.998, 0.987, 0.982, 0.96, 0.922, 0.884, 0.857, 0.842, 0.851, 0.889, 0.943, 0.976, 0.992, 0.998, 1.005, 1.001, 1.005, 1.003, 1.009, 1.003, 1.005, 1.009, 1.003, 0.987, 0.998, 1.014, 1.02, 1.014, 1.02, 1.014, 1.009, 1.014, 1.009, 1.003, 1.009, 1.014, 1.005, 1.009, 1.014, 0.998, 1.009, 1.014, 1.02, 1.014]
S41_mw = [4361.5, 4363.7, 4366.1, 4367.8, 4369.0, 4371.0, 4372.6, 4373.6, 4374.7, 4375.9, 4380.8, 4384.0, 4385.7, 4386.5, 4387.1, 4387.8, 4388.35, 4388.9, 4389.3, 4389.9, 4390.5, 4391.2, 4392.2, 4394.6, 4397.1, 4397.7, 4398.3, 4398.8, 4400.3, 4410.5]
S41_mf = [0.998, 1.001, 0.998, 0.989, 0.998, 0.995, 0.99, 0.984, 0.992, 1.001, 1.005, 1.005, 0.995, 0.971, 0.933, 0.884, 0.846, 0.829, 0.834, 0.873, 0.927, 0.971, 0.998, 1.003, 1.005, 1.001, 0.995, 1.001, 1.005, 1.009]

S42_ow = [4404.7, 4405.3, 4405.9, 4406.4, 4407.1, 4407.7, 4408.3, 4408.7, 4409.1, 4409.6, 4410.3, 4410.9, 4411.5, 4412.0, 4412.7, 4413.3, 4413.9, 4414.4, 4415.1, 4415.7, 4416.3, 4416.8, 4417.5, 4417.9, 4418.4, 4419.1, 4419.7, 4420.3, 4420.8, 4421.5, 4422.1, 4422.7, 4423.2, 4423.9, 4424.5, 4425.1, 4425.6, 4426.3, 4426.9, 4427.5, 4428.0, 4428.7, 4429.3, 4429.9, 4430.4, 4431.1, 4431.7, 4432.3, 4432.8, 4433.5, 4434.1, 4434.7, 4435.2, 4435.9, 4436.5, 4437.1, 4437.6, 4438.3, 4438.8, 4439.5, 4440.0, 4440.7, 4441.3, 4441.9, 4442.4, 4443.1, 4443.7, 4444.3, 4444.8, 4445.5, 4446.1, 4446.7, 4447.2, 4447.9, 4448.5, 4449.1, 4449.6, 4450.3, 4450.9, 4451.5, 4452.0, 4452.5]
S42_of = [0.99, 0.996, 1.005, 1.002, 1.008, 1.008, 1.017, 1.036, 1.033, 1.017, 1.002, 1.005, 0.996, 0.999, 1.002, 1.005, 1.017, 1.011, 0.999, 1.005, 1.011, 1.002, 1.011, 1.017, 1.002, 0.996, 0.986, 0.999, 1.002, 0.999, 1.005, 1.011, 1.014, 1.017, 1.011, 1.008, 0.999, 1.011, 1.008, 0.996, 1.002, 0.993, 0.99, 0.996, 0.993, 0.999, 0.993, 0.999, 1.002, 1.011, 1.014, 1.011, 1.005, 1.002, 0.993, 0.977, 0.968, 0.967, 0.986, 0.999, 1.005, 1.008, 1.002, 0.999, 1.011, 1.02, 1.014, 1.002, 1.014, 1.027, 1.017, 1.002, 0.996, 1.002, 1.014, 1.017, 1.008, 0.999, 1.002, 0.999, 0.996, 0.999]
S42_mw = [4404.5, 4410.3, 4412.7, 4413.9, 4415.1, 4416.3, 4417.5, 4418.7, 4419.9, 4422.3, 4429.5, 4432.7, 4435.1, 4436.3, 4437.1, 4437.6, 4438.3, 4438.9, 4439.7, 4440.7, 4443.1, 4445.1, 4446.7, 4447.5, 4448.5, 4450.3, 4452.5]
S42_mf = [1.004, 1.002, 0.999, 1.0, 0.996, 0.99, 0.983, 0.99, 0.999, 1.004, 1.002, 1.0, 1.002, 0.996, 0.977, 0.967, 0.963, 0.974, 0.996, 1.002, 1.004, 1.002, 0.996, 0.993, 0.999, 1.004, 1.0]

S51_ow = [4441.7, 4442.2, 4442.7, 4443.3, 4443.9, 4444.5, 4445.2, 4445.7, 4446.3, 4446.95, 4447.6, 4448.2, 4448.7, 4449.4, 4450.0, 4450.6, 4451.2, 4451.8, 4452.5, 4453.05, 4453.6, 4454.3, 4454.9, 4455.5, 4456.1, 4456.7, 4457.4, 4457.9, 4458.5, 4459.2, 4459.8, 4460.4, 4460.95, 4461.6, 4462.25, 4462.8, 4463.4, 4464.0, 4464.7, 4465.3, 4465.8, 4466.5, 4467.1, 4467.7, 4468.1, 4468.5, 4468.9, 4469.3, 4469.7, 4470.2, 4470.7, 4471.2, 4471.8, 4472.3, 4472.99, 4473.6, 4474.2, 4474.8, 4475.4, 4476.1, 4476.65, 4477.2, 4477.9, 4478.5, 4479.1, 4479.7, 4480.3, 4480.96, 4481.5, 4482.1, 4482.75, 4483.4, 4483.97, 4484.5, 4485.2, 4485.8, 4486.4, 4486.98, 4487.6, 4488.3, 4488.9, 4489.4, 4489.9, 4490.5]
S51_of = [1.003, 0.998, 1.0, 0.992, 0.988, 0.992, 0.998, 1.003, 0.998, 1.003, 1.0, 1.003, 1.0, 0.992, 1.0, 0.986, 0.984, 0.992, 0.986, 0.998, 0.988, 0.992, 1.0, 0.998, 1.003, 0.992, 0.998, 1.003, 0.998, 1.003, 1.0, 0.986, 0.992, 0.98, 0.986, 0.992, 0.98, 0.974, 0.965, 0.945, 0.916, 0.881, 0.852, 0.823, 0.806, 0.8, 0.809, 0.817, 0.835, 0.87, 0.91, 0.945, 0.969, 0.984, 0.992, 0.998, 0.992, 1.0, 1.003, 1.0, 1.003, 0.998, 0.988, 0.972, 0.963, 0.969, 0.986, 0.998, 1.0, 1.003, 0.998, 1.003, 1.0, 1.003, 1.009, 1.003, 1.0, 0.998, 1.003, 0.998, 1.003, 1.0, 1.003, 1.0]
S51_mw = [4441.5, 4443.3, 4444.5, 4445.7, 4447.8, 4456.7, 4460.8, 4463.2, 4464.45, 4465.5, 4466.3, 4467.1, 4467.9, 4468.5, 4469.1, 4469.6, 4470.1, 4470.7, 4471.4, 4472.2, 4473.2, 4474.6, 4476.65, 4477.7, 4478.5, 4479.0, 4479.7, 4480.7, 4482.3, 4490.5]
S51_mf = [1.003, 0.998, 0.988, 0.998, 1.0, 1.0, 0.998, 0.986, 0.969, 0.934, 0.893, 0.847, 0.812, 0.794, 0.783, 0.794, 0.829, 0.881, 0.934, 0.974, 0.995, 1.0, 0.998, 0.986, 0.972, 0.966, 0.974, 0.992, 1.0, 1.003]

S52_ow = [4500.2, 4500.7, 4501.3, 4501.8, 4502.3, 4502.9, 4503.4, 4503.9, 4504.4, 4505.0, 4505.5, 4506.2, 4507.1, 4507.8, 4508.7, 4509.5, 4510.3, 4511.0, 4511.9, 4512.7, 4513.4, 4514.2, 4515.0, 4515.9, 4516.6, 4517.4, 4518.2, 4519.0, 4519.8, 4520.5, 4521.4, 4522.2, 4523.0, 4523.7, 4524.6, 4525.4, 4526.1, 4526.9, 4527.7, 4528.6, 4529.3, 4530.1, 4530.9, 4531.7, 4532.5, 4533.2, 4534.1, 4534.9, 4535.7, 4536.4, 4537.2, 4538.1, 4538.8, 4539.6, 4540.4, 4541.3, 4542.0, 4542.8, 4543.6, 4544.4, 4545.2, 4545.9, 4546.8, 4547.6, 4548.4, 4549.1, 4549.9, 4550.8, 4551.5, 4552.3, 4553.1, 4554.0, 4554.7, 4555.4, 4556.1, 4556.8, 4557.4, 4558.2, 4558.9, 4559.7, 4560.5, 4561.1, 4561.8, 4562.4, 4562.9, 4563.5]
S52_of = [0.967, 0.979, 0.976, 0.984, 0.993, 0.998, 1.007, 0.99, 1.001, 1.018, 0.981, 0.984, 0.998, 1.007, 0.993, 1.001, 0.993, 1.004, 0.995, 1.001, 0.99, 0.998, 0.993, 0.987, 0.998, 1.004, 1.01, 1.001, 0.993, 1.001, 0.998, 1.007, 0.995, 0.987, 0.993, 0.998, 1.004, 0.99, 0.995, 1.007, 0.998, 0.99, 0.998, 0.984, 0.987, 0.998, 1.007, 0.995, 0.99, 1.004, 0.993, 0.987, 1.001, 1.01, 1.001, 0.995, 1.007, 1.012, 1.001, 1.018, 1.004, 0.995, 0.998, 1.007, 1.001, 0.993, 0.998, 0.993, 0.995, 0.99, 0.984, 0.979, 0.976, 0.979, 0.99, 1.004, 1.018, 1.004, 1.001, 1.007, 1.004, 0.998, 1.018, 1.012, 0.998, 1.004]
S52_mw = [4500, 4514.0, 4516.1, 4517.4, 4518.7, 4520.3, 4523.5, 4525.6, 4527.7, 4529.8, 4530.9, 4531.7, 4532.8, 4534.6, 4551.0, 4552.6, 4553.65, 4554.5, 4555.2, 4556.1, 4556.8, 4557.6, 4563.5]
S52_mf = [1.007, 1.006, 1.001, 0.997, 1.001, 1.006, 1.007, 1.004, 1.002, 1.002, 0.998, 0.993, 0.998, 1.006, 1.007, 1.004, 0.993, 0.981, 0.977, 0.981, 0.995, 1.006, 1.007]

# Y tick candidates
YT_01 = [0.6, 0.7, 0.8, 0.9, 1.0]
YT_005 = [0.9, 0.95, 1.0, 1.05]

# ---------------- layout geometry (pixels) ----------------
COLS_PX = {"L1": (54, 255), "L2": (289, 489), "R1": (581, 782), "R2": (816, 1016)}
ROWS_PX = [(26, 118), (148, 241), (271, 364), (393, 486), (515, 607)]

panels = [
    ("L1", 0, (4001.5, 4050.5), (0.700, 1.097), 0.1, P11_ow, P11_of, P11_mw, P11_mf),
    ("L2", 0, (4060, 4140), (0.598, 1.117), 0.1, P12_ow, P12_of, P12_mw, P12_mf),
    ("L1", 1, (4131, 4180), (0.818, 1.110), 0.1, P21_ow, P21_of, P21_mw, P21_mf),
    ("L2", 1, (4176, 4225), (0.922, 1.079), 0.05, P22_ow, P22_of, P22_mw, P22_mf),
    ("L1", 2, (4241.5, 4290.5), (0.899, 1.070), 0.05, P31_ow, P31_of, P31_mw, P31_mf),
    ("L2", 2, (4300, 4380), (0.583, 1.104), 0.1, P32_ow, P32_of, P32_mw, P32_mf),
    ("L1", 3, (4361.5, 4410.5), (0.797, 1.094), 0.1, P41_ow, P41_of, P41_mw, P41_mf),
    ("L2", 3, (4404.5, 4452.5), (0.899, 1.092), 0.05, P42_ow, P42_of, P42_mw, P42_mf),
    ("L1", 4, (4441.5, 4490.5), (0.742, 1.076), 0.1, P51_ow, P51_of, P51_mw, P51_mf),
    ("L2", 4, (4500, 4563.5), (0.921, 1.079), 0.05, P52_ow, P52_of, P52_mw, P52_mf),
    ("R1", 0, (4001.5, 4050.5), (0.719, 1.069), 0.1, S11_ow, S11_of, S11_mw, S11_mf),
    ("R2", 0, (4060, 4140), (0.531, 1.096), 0.1, S12_ow, S12_of, S12_mw, S12_mf),
    ("R1", 1, (4131, 4180), (0.808, 1.092), 0.1, S21_ow, S21_of, S21_mw, S21_mf),
    ("R2", 1, (4176, 4225), (0.935, 1.066), 0.05, S22_ow, S22_of, S22_mw, S22_mf),
    ("R1", 2, (4241.5, 4290.5), (0.907, 1.063), 0.05, S31_ow, S31_of, S31_mw, S31_mf),
    ("R2", 2, (4300, 4380), (0.555, 1.079), 0.1, S32_ow, S32_of, S32_mw, S32_mf),
    ("R1", 3, (4361.5, 4410.5), (0.777, 1.079), 0.1, S41_ow, S41_of, S41_mw, S41_mf),
    ("R2", 3, (4404.5, 4452.5), (0.914, 1.085), 0.05, S42_ow, S42_of, S42_mw, S42_mf),
    ("R1", 4, (4441.5, 4490.5), (0.740, 1.062), 0.1, S51_ow, S51_of, S51_mw, S51_mf),
    ("R2", 4, (4500, 4563.5), (0.915, 1.072), 0.05, S52_ow, S52_of, S52_mw, S52_mf),
]

# line labels (text, x px, y px, anchor)
labels = [
    ("He I 4009.3", 67, 90, "left"), ("He I 4026.2", 67, 105, "left"),
    ("O II 4075.9", 302, 78, "left"), ("Si IV 4088.9", 302, 91, "left"), ("H I 4101.7", 303, 105, "left"),
    ("Si IV 4116.1", 477, 78, "right"), ("He I 4120.8\u2013", 477, 91, "right"), ("4121.0", 477, 105, "right"),
    ("He I 4143.8", 242, 214, "right"), ("He I 4169.0", 242, 227, "right"),
    ("O II 4185.4", 304, 214, "left"), ("O II 4189.6\u20138", 304, 227, "left"),
    ("He II 4199.8", 482, 214, "right"), ("Si IV 4212.4", 480, 227, "right"),
    ("C II 4267.0\u20133", 62, 336, "left"), ("O II 4275.5\u20134276.8", 62, 349, "left"),
    ("H I 4340.5", 304, 349, "left"),
    ("He I 4387.9", 67, 471, "left"),
    ("O II 4414.9\u20134417.0", 302, 471, "left"), ("He I 4437.6", 476, 471, "right"),
    ("He I 4471.5", 66, 580, "left"), ("Mg II 4481.1\u20133", 59, 594, "left"),
    ("He II 4541.6", 301, 580, "left"), ("Si III 4552.6", 301, 594, "left"),
    ("He I 4009.3", 593, 90, "left"), ("He I 4026.2", 593, 105, "left"),
    ("O II 4075.9", 828, 77, "left"), ("H I 4101.7", 828, 105, "left"),
    ("He I 4120.8\u2013", 1005, 90, "right"), ("4121.0", 1005, 105, "right"),
    ("He I 4143.8", 773, 214, "right"), ("He I 4169.0", 773, 227, "right"),
    ("O II 4185.4", 832, 214, "left"), ("O II 4189.6\u20138", 832, 227, "left"),
    ("C II 4267.0\u20133", 585, 336, "left"), ("O II 4275.5\u20134276.8", 585, 349, "left"),
    ("H I 4340.5", 830, 349, "left"),
    ("He I 4387.9", 593, 471, "left"),
    ("O II 4414.9\u20134417.0", 828, 471, "left"), ("He I 4437.6", 1008, 471, "right"),
    ("He I 4471.5", 592, 580, "left"), ("Mg II 4481.1\u20133", 586, 594, "left"),
    ("Si III 4552.6", 827, 594, "left"),
]

TICKFONT = dict(family="Liberation Sans, Arial, sans-serif", size=12, color="black")


def fmt(v):
    return f"{v:g}"


fig = go.Figure()
layout = {}
for i, (col, row, xr, yr, ystep, ow, of, mw, mf) in enumerate(panels, start=1):
    xs = "" if i == 1 else str(i)
    x0, x1 = COLS_PX[col]
    y0, y1 = ROWS_PX[row]
    fig.add_trace(go.Scatter(x=ow, y=of, mode="lines", xaxis="x" + xs, yaxis="y" + xs,
                             line=dict(color="black", width=1.3, shape="spline", smoothing=0.6),
                             showlegend=False, hoverinfo="skip"))
    fig.add_trace(go.Scatter(x=mw, y=mf, mode="lines", xaxis="x" + xs, yaxis="y" + xs,
                             line=dict(color="#ff0000", width=1.4, shape="spline", smoothing=0.8),
                             showlegend=False, hoverinfo="skip"))
    cand = YT_01 if ystep == 0.1 else YT_005
    yt = [v for v in cand if yr[0] - 1e-9 <= v <= yr[1]]
    layout["xaxis" + xs] = dict(
        domain=[x0 / W, x1 / W], range=list(xr), anchor="y" + xs, automargin=False,
        tickmode="linear", tick0=0, dtick=20, tickformat="d",
        ticks="inside", ticklen=6, tickwidth=1, tickcolor="black",
        minor=dict(tickmode="linear", tick0=0, dtick=2, ticks="inside", ticklen=3,
                   tickwidth=1, tickcolor="black"),
        showline=True, linewidth=1.5, linecolor="black", mirror="ticks",
        showgrid=False, zeroline=False, tickfont=TICKFONT, ticklabelstandoff=12,
        ticklabeloverflow="allow", fixedrange=True)
    layout["yaxis" + xs] = dict(
        domain=[1 - y1 / H, 1 - y0 / H], range=list(yr), anchor="x" + xs, automargin=False,
        tickmode="array", tickvals=yt, ticktext=[fmt(v) for v in yt],
        ticks="inside", ticklen=6, tickwidth=1, tickcolor="black",
        minor=dict(tickmode="linear", tick0=0, dtick=ystep / (2 if ystep == 0.1 else 5),
                   ticks="inside", ticklen=3, tickwidth=1, tickcolor="black"),
        showline=True, linewidth=1.5, linecolor="black", mirror="ticks",
        showgrid=False, zeroline=False, tickfont=TICKFONT, ticklabelstandoff=6,
        ticklabeloverflow="allow", fixedrange=True)

annotations = []
for text, xp, yp, anc in labels:
    annotations.append(dict(text=text, x=xp / W, y=1 - yp / H, xref="paper", yref="paper",
                            xanchor=anc, yanchor="middle", showarrow=False,
                            font=dict(family="Liberation Serif, Times New Roman, serif",
                                      size=11, color="black", weight="bold")))

MONO = "Liberation Mono, Courier New, monospace"
for text, xp in [("4 110409 primary", 271.5), ("4 110409 secondary", 798.5)]:
    annotations.append(dict(text=text, x=xp / W, y=1 - 9 / H, xref="paper", yref="paper",
                            xanchor="center", yanchor="middle", showarrow=False,
                            font=dict(family=MONO, size=16.5, color="black")))
for xp in [154.5, 389.5, 681.5, 916.5]:
    annotations.append(dict(text="Wavelength (\u00c5)", x=xp / W, y=1 - 649 / H,
                            xref="paper", yref="paper", xanchor="center", yanchor="middle",
                            showarrow=False,
                            font=dict(family=MONO, size=13.5, color="black", weight="bold")))
for xp in [12, 541]:
    annotations.append(dict(text="Rel. flux (\u2013)", x=xp / W, y=1 - 315 / H,
                            xref="paper", yref="paper", xanchor="center", yanchor="middle",
                            textangle=-90, showarrow=False,
                            font=dict(family=MONO, size=13.5, color="black", weight="bold")))

fig.update_layout(template="none", width=W, height=H, margin=dict(l=0, r=0, t=0, b=0, pad=0),
                  paper_bgcolor="white", plot_bgcolor="white",
                  annotations=annotations, showlegend=False, **layout)

fig.write_html("out.html", include_plotlyjs=True, config={"displayModeBar": False},
               post_script="document.body.style.margin='0px';"
                           "document.body.style.padding='0px';"
                           "document.documentElement.style.overflow='hidden';")
